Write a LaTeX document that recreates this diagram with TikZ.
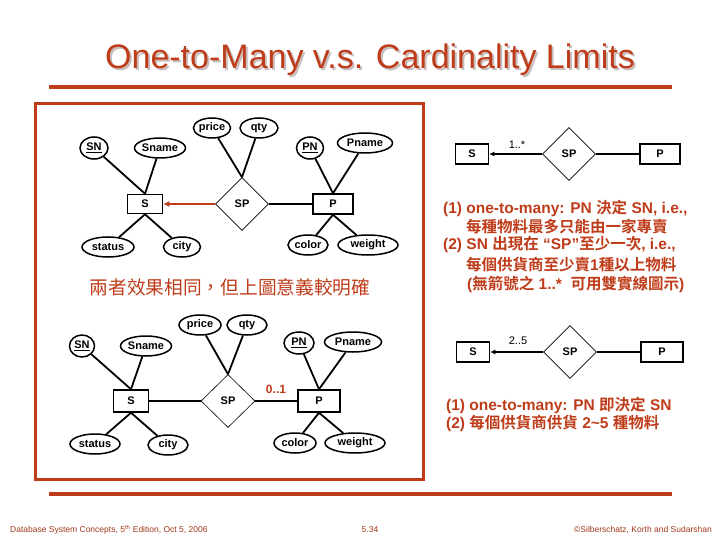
\documentclass[tikz,border=0pt]{standalone}
\usepackage{fontspec}
\setmainfont{Liberation Sans}
\newfontfamily\cjk{Noto Sans CJK TC}[BoldFont={Noto Sans CJK TC Bold}]
\usetikzlibrary{shapes.geometric,arrows.meta}
\definecolor{rust}{RGB}{190,60,25}
\definecolor{footred}{RGB}{160,55,25}
\definecolor{shadowgray}{RGB}{200,190,190}
\newcommand{\zh}[1]{{\cjk #1}}

\tikzset{
  attr/.style={ellipse, draw, line width=1.5pt, inner sep=0pt, minimum height=20pt,
    font=\bfseries\fontsize{11}{12}\selectfont},
  ent/.style={rectangle, draw, line width=1.5pt, inner sep=0pt, minimum width=35pt,
    minimum height=19pt, font=\bfseries\fontsize{11}{12}\selectfont},
  rel/.style={diamond, draw, line width=0.6pt, inner sep=0pt, minimum width=53pt,
    minimum height=53pt, font=\bfseries\fontsize{11}{12}\selectfont},
  link/.style={line width=1.8pt},
  note/.style={anchor=west, inner sep=0pt, text=rust, font=\bfseries\fontsize{15.5}{17}\selectfont},
  footer/.style={inner sep=0pt, text=footred, font=\fontsize{8.5}{10}\selectfont},
}

\begin{document}
\begin{tikzpicture}[x=1pt,y=-1pt]
\useasboundingbox (0,0) rectangle (720,540);

% title and frame
\node[text=shadowgray, font=\fontsize{34}{40}\selectfont] (titleshadow) at (372,62) {One-to-Many v.s. Cardinality Limits};
\node[text=rust, font=\fontsize{34}{40}\selectfont] (title) at (370,60) {One-to-Many v.s. Cardinality Limits};
\draw[rust, line width=4pt] (49,87) -- (672,87);
\draw[rust, line width=4pt] (49,494) -- (672,494);
\draw[rust, line width=3pt] (35,104) rectangle (423,479);

% upper diagram
\node[attr, minimum width=37pt] (price1) at (212,128) {price};
\node[attr, minimum width=38pt] (qty1) at (259,128) {qty};
\node[attr, minimum width=28pt, minimum height=22pt] (sn1) at (94,148) {\underline{SN}};
\node[attr, minimum width=50pt] (sname1) at (160,148) {Sname};
\node[attr, minimum width=27pt, minimum height=22pt] (pn1) at (310,148) {\underline{PN}};
\node[attr, minimum width=55pt] (pname1) at (365,143) {Pname};
\node[ent] (s1) at (145,204) {S};
\node[rel] (sp1) at (242,204) {SP};
\node[ent, minimum width=40pt, minimum height=20pt] (p1) at (333,204) {P};
\node[attr, minimum width=52pt] (status1) at (108,247) {status};
\node[attr, minimum width=37pt] (city1) at (182,247) {city};
\node[attr, minimum width=40pt] (color1) at (308,245) {color};
\node[attr, minimum width=60pt] (weight1) at (368,245) {weight};

\draw[link] (sn1) -- (s1.north);
\draw[link] (sname1) -- (s1.north);
\draw[link] (status1) -- (s1.south);
\draw[link] (city1) -- (s1.south);
\draw[link] (price1) -- (sp1.north);
\draw[link] (qty1) -- (sp1.north);
\draw[link] (pn1) -- (p1.north);
\draw[link] (pname1) -- (p1.north);
\draw[link] (color1) -- (p1.south);
\draw[link] (weight1) -- (p1.south);
\draw[rust, line width=2.6pt, -{Latex[length=6pt,width=6pt]}] (sp1) -- (s1);
\draw[link] (sp1) -- (p1);

\node[text=rust, font=\cjk\fontsize{18.7}{20}\selectfont] (remark) at (230,287) {兩者效果相同，但上圖意義較明確};

% lower diagram
\node[attr, minimum width=42pt] (price2) at (200,325) {price};
\node[attr, minimum width=40pt] (qty2) at (247,325) {qty};
\node[attr, minimum width=25pt, minimum height=22pt] (sn2) at (82,346) {\underline{SN}};
\node[attr, minimum width=48pt] (sname2) at (146,346) {Sname};
\node[attr, minimum width=30pt, minimum height=22pt] (pn2) at (299,343) {\underline{PN}};
\node[attr, minimum width=57pt] (pname2) at (353,342) {Pname};
\node[ent, minimum height=22pt] (s2) at (131,401) {S};
\node[rel, minimum width=54pt] (sp2) at (228,401) {SP};
\node[ent, minimum width=42pt, minimum height=22pt] (p2) at (319,401) {P};
\node[attr, minimum width=50pt] (status2) at (95,444) {status};
\node[attr, minimum width=40pt] (city2) at (168,445) {city};
\node[attr, minimum width=42pt] (color2) at (295,443) {color};
\node[attr, minimum width=60pt] (weight2) at (355,443) {weight};

\draw[link] (sn2) -- (s2.north);
\draw[link] (sname2) -- (s2.north);
\draw[link] (status2) -- (s2.south);
\draw[link] (city2) -- (s2.south);
\draw[link] (price2) -- (sp2.north);
\draw[link] (qty2) -- (sp2.north);
\draw[link] (pn2) -- (p2.north);
\draw[link] (pname2) -- (p2.north);
\draw[link] (color2) -- (p2.south);
\draw[link] (weight2) -- (p2.south);
\draw[link] (s2) -- (sp2);
\draw[link] (sp2) -- (p2);
\node[text=rust, font=\bfseries\fontsize{12}{12}\selectfont] (card2) at (276,389) {0..1};

% right, cardinality 1..*
\node[ent, minimum width=33pt, minimum height=20pt] (s3) at (472,154) {S};
\node[rel] (sp3) at (569,154) {SP};
\node[ent, minimum width=40pt, minimum height=20pt] (p3) at (660,154) {P};
\draw[line width=1.8pt, -{Latex[length=5pt,width=5pt]}] (sp3) -- (s3);
\draw[link] (sp3) -- (p3);
\node[font=\fontsize{11}{12}\selectfont] (card3) at (517,145) {1..*};

\node[note] (t1) at (443,208) {(1) one-to-many: PN \zh{決定} SN, i.e.,};
\node[note] (t2) at (466,227) {\zh{每種物料最多只能由一家專賣}};
\node[note] (t3) at (443,245) {(2) SN \zh{出現在} “SP”\zh{至少一次}, i.e.,};
\node[note] (t4) at (466,265) {\zh{每個供貨商至少賣}1\zh{種以上物料}};
\node[note] (t5) at (467,284) {(\zh{無箭號之} 1..*\ \ \zh{可用雙實線圖示})};

% right, cardinality 2..5
\node[ent, minimum width=33pt, minimum height=20pt] (s4) at (473,352) {S};
\node[rel] (sp4) at (570,352) {SP};
\node[ent, minimum width=42pt, minimum height=20pt] (p4) at (662,352) {P};
\draw[line width=1.8pt, -{Latex[length=5pt,width=5pt]}] (sp4) -- (s4);
\draw[link] (sp4) -- (p4);
\node[font=\fontsize{11}{12}\selectfont] (card4) at (518,341) {2..5};

\node[note] (b1) at (446,405) {(1) one-to-many: PN \zh{即決定} SN};
\node[note] (b2) at (446,423) {(2) \zh{每個供貨商供貨} 2\textasciitilde5 \zh{種物料}};

% footer
\node[footer, anchor=west] (foot1) at (10,530) {Database System Concepts, 5\textsuperscript{th} Edition, Oct 5, 2006};
\node[footer] (foot2) at (370,530) {5.34};
\node[footer, anchor=east] (foot3) at (712,530) {\textcopyright Silberschatz, Korth and Sudarshan};
\end{tikzpicture}
\end{document}
